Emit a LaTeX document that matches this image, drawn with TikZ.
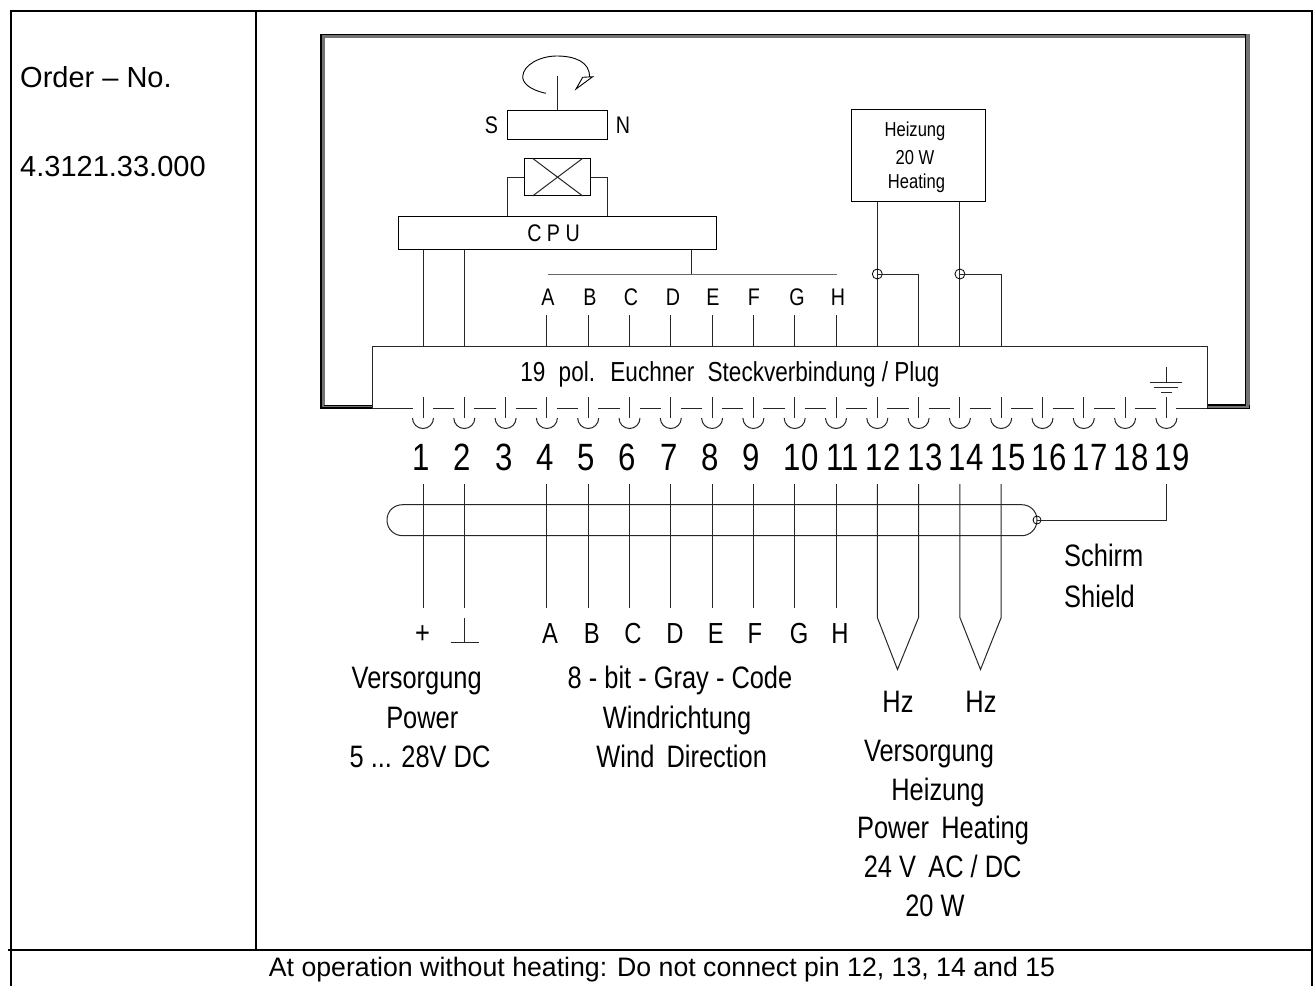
\documentclass[tikz,border=0pt]{standalone}
\usepackage{fontspec}
\setmainfont{Liberation Sans}
\newfontfamily\narrowfont[FakeStretch=0.82]{Liberation Sans}
\usetikzlibrary{positioning}
\tikzset{
  rule/.style={line width=2pt, black},
  wire/.style={line width=1pt, black!85},
  box/.style={draw, line width=1pt, inner sep=0pt},
  lbl/.style={inner sep=0pt, anchor=base, font=\narrowfont\fontsize{31}{31}\selectfont},
  lblsmall/.style={inner sep=0pt, anchor=base, font=\narrowfont\fontsize{24}{24}\selectfont},
  lblheat/.style={inner sep=0pt, anchor=base, font=\narrowfont\fontsize{20.2}{20.2}\selectfont},
  lblnum/.style={inner sep=0pt, anchor=base, font=\narrowfont\fontsize{38}{38}\selectfont},
  lblwide/.style={inner sep=0pt, font=\fontsize{29}{29}\selectfont},
}
\begin{document}
\begin{tikzpicture}[x=1pt, y=-1pt]
      \useasboundingbox (0,0) rectangle (1315,986);
      \draw[rule] (9.5,10.5) -- (1312,10.5) -- (1312,986);
      \draw[rule] (10.5,10.5) -- (10.5,986);
      \draw[rule] (256,10.5) -- (256,949.5);
      \draw[rule] (8,949.5) -- (1312,949.5);
      \node[lblwide, anchor=base west] (order) at (20,87.5) {Order – No.};
      \node[lblwide, anchor=base west] (ordernr) at (20,176) {4.3121.33.000};
      \node[lblwide, anchor=base, font=\fontsize{26.7}{26.7}\selectfont] (note) at (662,976) {At operation without heating: Do not connect pin 12, 13, 14 and 15};
      % housing
      \draw[line width=4pt, black!55] (372,406.5) -- (322.5,406.5) -- (322.5,36) -- (1247.5,36) -- (1247.5,406.5) -- (1207,406.5);
      \draw[line width=1.5pt] (372,408) -- (321,408) -- (321,34.5) -- (1245.5,34.5) -- (1245.5,405) -- (1207,405);
      \draw[line width=1pt] (372,405) -- (324,405);
      \draw[line width=1pt] (1207,408) -- (1249,408) -- (1249,405);
      % plug
      \coordinate (pluglt) at (372,346);
      \coordinate (plugrt) at (1207,346);
      \coordinate (pluglb) at (372,408);
      \coordinate (plugrb) at (1207,408);
      \draw[wire] (pluglb) -- (pluglt) -- (plugrt) -- (plugrb);
      \node[lbl, font=\narrowfont\fontsize{27.5}{27.5}\selectfont] (plugtext) at (730,381.5) {19\hspace{7pt} pol.\hspace{7pt} Euchner\hspace{7pt} Steckverbindung / Plug};
      \foreach \i in {1, ..., 19} {
        \coordinate (pin\i) at ({423+41.3*(\i-1)},397);
        \coordinate (pinend\i) at ({423+41.3*(\i-1)},417.5);
        \coordinate (top\i) at ({423+41.3*(\i-1)},346);
        \coordinate (lead\i) at ({423+41.3*(\i-1)},315);
        \coordinate (gapa\i) at ({423+41.3*(\i-1)-10},408);
        \coordinate (gapb\i) at ({423+41.3*(\i-1)+10},408);
        \coordinate (cable\i) at ({423+41.3*(\i-1)},484);
        \draw[wire] (pin\i) -- (pinend\i);
        \draw[wire] ({423+41.3*(\i-1)-10.5},418) arc (180:0:10.5);
      }
      \draw[wire] (pluglb) -- (gapa1);
      \foreach \i/\j in {1/2, 2/3, 3/4, 4/5, 5/6, 6/7, 7/8, 8/9, 9/10, 10/11, 11/12, 12/13, 13/14, 14/15, 15/16, 16/17, 17/18, 18/19} {
        \draw[wire] (gapb\i) -- (gapa\j);
      }
      \draw[wire] (gapb19) -- (plugrb);
      \foreach \i/\x in {1/421.5, 2/462.5, 3/504, 4/545, 5/586, 6/627, 7/669, 8/710, 9/751, 10/801, 11/843, 12/883, 13/925, 14/966, 15/1008, 16/1049, 17/1090, 18/1131, 19/1172} {
        \node[lblnum] (num\i) at (\x,470) {\i};
      }
      % earth
      \coordinate (earth) at (1166.5,366.5);
      \coordinate (earthb) at (1166.5,382);
      \draw[wire] (earth) -- (earthb);
      \draw[wire] (1150,382) -- (1182,382);
      \draw[wire] (1154,387) -- (1178,387);
      \draw[wire] (1161,392.5) -- (1172,392.5);
      % magnet
      \node[box, minimum width=99.5pt, minimum height=29pt] (magnet) at (557.5,125) {};
      \node[lblsmall, left=9pt of magnet.west, anchor=east] (south) {S};
      \node[lblsmall, right=8pt of magnet.east, anchor=west] (north) {N};
      \coordinate (shaft) at (557.5,76);
      \draw[wire] (shaft) -- (magnet.north);
      \draw[line width=.9pt] (546,93.3) .. controls (530,90) and (522.5,83) .. (522.7,76.7) .. controls (523,65) and (540,56) .. (556.7,56) .. controls (575,56) and (590,62) .. (589.5,77);
      \draw[line width=.9pt] (576,89) -- (592.7,76.7) -- (582.7,77.3) -- cycle;
      % sensor
      \node[box, minimum width=66pt, minimum height=37.5pt] (sensor) at (557.5,177) {};
      \draw[wire] (532.5,158.3) -- (582.7,196);
      \draw[wire] (532.5,196) -- (582.7,158.3);
      % cpu
      \node[box, minimum width=317.5pt, minimum height=33.5pt] (cpu) at (557.5,233) {};
      \node[lblsmall] (cputext) at (553.5,241) {C P U};
      \draw[wire] (sensor.west) -- (magnet.west |- sensor.west) -- (magnet.west |- cpu.north);
      \draw[wire] (sensor.east) -- (magnet.east |- sensor.east) -- (magnet.east |- cpu.north);
      \draw[wire] (top1 |- cpu.south) -- (top1);
      \draw[wire] (top2 |- cpu.south) -- (top2);
      \coordinate (busa) at (547.5,274);
      \coordinate (busb) at (836.5,274);
      \draw[wire, black!60] (busa) -- (busb);
      \draw[wire] (691.5,249.7) -- (691.5,274);
      \foreach \i/\l/\x in {4/A/548, 5/B/590, 6/C/631, 7/D/673, 8/E/713, 9/F/754, 10/G/797, 11/H/838} {
        \draw[wire] (lead\i) -- (top\i);
        \node[lblsmall] (bit\l) at (\x,305) {\l};
      }
      % heating
      \node[box, minimum width=134pt, minimum height=92.5pt] (heater) at (918.3,155.5) {};
      \node[lblheat] (heizung) at (915,136.5) {Heizung};
      \node[lblheat] (watt) at (915,164) {20 W};
      \node[lblheat] (heating) at (916.5,188.5) {Heating};
      \foreach \i/\j in {12/13, 14/15} {
        \coordinate (joint\i) at (top\i |- busa);
        \draw[wire] (top\i |- heater.south) -- (top\i);
        \draw[line width=.8pt] (joint\i) circle (5);
        \draw[wire] (joint\i) -- (top\j |- busa) -- (top\j);
      }
      % cable
      \coordinate (cablelt) at (402.7,504.7);
      \coordinate (cablelb) at (402.7,535.7);
      \coordinate (cablert) at (1021.7,504.7);
      \coordinate (cablerb) at (1021.7,535.7);
      \coordinate (shield) at (1037,520);
      \draw[wire] (cablelt) -- (cablert) .. controls (1030,504.7) and (1037,511) .. (shield) .. controls (1037,529) and (1030,535.7) .. (cablerb) -- (cablelb) .. controls (394,535.7) and (387,529) .. (387,520) .. controls (387,511) and (394,504.7) .. (cablelt);
      \draw[line width=.8pt] (shield) circle (4);
      \draw[wire] (shield) -- (cable19 |- shield) -- (cable19);
      \foreach \i in {1, 2, 4, 5, 6, 7, 8, 9, 10, 11} {
        \coordinate (wireend\i) at (pin\i |- 0,607.5);
        \draw[wire] (cable\i) -- (wireend\i);
      }
      \foreach \i/\j/\x in {12/13/897.5, 14/15/980.5} {
        \coordinate (tip\i) at (\x,669.5);
        \draw[wire] (cable\i) -- (pin\i |- 0,617.5) -- (tip\i) -- (pin\j |- 0,617.5) -- (cable\j);
      }
      % supply
      \node[lbl] (plus) at (422.5,643) {+};
      \coordinate (gndtop) at (464.5,618);
      \coordinate (gndbot) at (464.5,642);
      \draw[wire] (gndtop) -- (gndbot);
      \draw[wire] (450.7,642) -- (478.7,642);
      \foreach \l/\x in {A/550, B/591.7, C/633, D/675, E/715.7, F/755, G/799, H/840} {
        \node[lbl, font=\narrowfont\fontsize{29}{29}\selectfont] (code\l) at (\x,643.5) {\l};
      }
      \node[lbl] (powera) at (416.7,688) {Versorgung};
      \node[lbl] (powerb) at (422.3,728.3) {Power};
      \node[lbl] (powerc) at (420,767) {5 ... 28V DC};
      \node[lbl] (graya) at (680,688) {8 - bit - Gray - Code};
      \node[lbl] (grayb) at (677,728.3) {Windrichtung};
      \node[lbl] (grayc) at (681.7,767) {Wind\, Direction};
      \node[lbl] (hza) at (898,712.7) {Hz};
      \node[lbl] (hzb) at (981,712.7) {Hz};
      \node[lbl, anchor=base west] (schirm) at (1064,566.7) {Schirm};
      \node[lbl, anchor=base west] (shieldtext) at (1064,607.7) {Shield};
      \node[lbl] (heata) at (929,761.7) {Versorgung};
      \node[lbl] (heatb) at (938,800) {Heizung};
      \node[lbl] (heatc) at (943,838) {Power\, Heating};
      \node[lbl] (heatd) at (942.7,877.7) {24 V\, AC / DC};
      \node[lbl] (heate) at (935,916.7) {20 W};
    \end{tikzpicture}
\end{document}
